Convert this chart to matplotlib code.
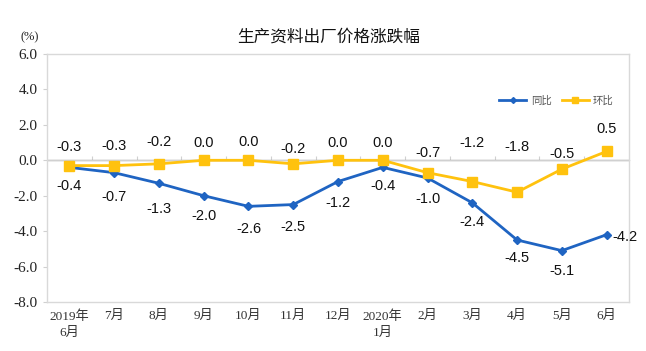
import matplotlib
matplotlib.use("Agg")
import matplotlib.pyplot as plt
import numpy as np

title = "生产资料出厂价格涨跌幅"
months = ["2019年\n6月", "7月", "8月", "9月", "10月", "11月", "12月",
          "2020年\n1月", "2月", "3月", "4月", "5月", "6月"]
yoy = [-0.4, -0.7, -1.3, -2.0, -2.6, -2.5, -1.2, -0.4, -1.0, -2.4, -4.5, -5.1, -4.2]
mom = [-0.3, -0.3, -0.2, 0.0, 0.0, -0.2, 0.0, 0.0, -0.7, -1.2, -1.8, -0.5, 0.5]
yoy_name = "同比"
mom_name = "环比"
yticks = [6.0, 4.0, 2.0, 0.0, -2.0, -4.0, -6.0, -8.0]

BLUE = "#1F64C2"
YELLOW = "#FFC20E"
CJK = ["Noto Sans CJK SC", "DejaVu Sans"]
SERIF = ["Liberation Serif", "Noto Sans CJK SC"]

fig = plt.figure(figsize=(6.46, 3.51), dpi=100)
ax = fig.add_axes([47/646, 1-302/351, 582/646, 248/351])
x = np.arange(len(months))

ax.plot(x, yoy, color=BLUE, lw=2.0, marker="D", ms=4.5, zorder=3)
ax.plot(x, mom, color=YELLOW, lw=2.0, marker="s", ms=7, zorder=3)

ax.set_xlim(-0.5, len(months) - 0.5)
ax.set_ylim(-8, 6)
ax.set_yticks(yticks)
ax.set_yticklabels([f"{v:.1f}" for v in yticks], family=SERIF, fontsize=11, color="#222222")
ax.set_xticks(x)
ax.set_xticklabels(months, family=SERIF, fontsize=9.5, linespacing=1.4, va="top", color="#333333")
ax.tick_params(axis="x", length=0, pad=6)
ax.tick_params(axis="y", length=3, color="#d0d0d0", pad=4)
for s in ax.spines.values():
    s.set_color("#d9d9d9")
    s.set_linewidth(1.0)
ax.axhline(0, color="#d0d0d0", lw=1.0, zorder=1)
# small category boundary ticks on the zero line
sec = ax.secondary_xaxis(8/14)
sec.set_xticks(np.arange(0.5, len(months) - 1, 1.0))
sec.set_xticklabels([])
sec.tick_params(length=3, color="#d0d0d0", direction="out")
sec.spines["bottom"].set_visible(False)

# data labels
mom_off = [19, 20, 22, 17, 18, 15, 17, 17, 20, 39, 45, 15, 22]
for i, v in enumerate(mom):
    ax.annotate(f"{v:.1f}", (i, v), xytext=(0, mom_off[i] * 0.72), textcoords="offset points",
                ha="center", va="center", fontsize=10.5, family="Liberation Sans", color="#111111")
yoy_off = [19, 24, 26, 20, 23, 22, 21, 19, 21, 19, 18, 20, 0]
for i, v in enumerate(yoy):
    if i == len(yoy) - 1:
        ax.annotate(f"{v:.1f}", (i, v), xytext=(13, -2), textcoords="offset points",
                    ha="center", va="center", fontsize=10.5, family="Liberation Sans", color="#111111")
    else:
        ax.annotate(f"{v:.1f}", (i, v), xytext=(0, -yoy_off[i] * 0.72), textcoords="offset points",
                    ha="center", va="center", fontsize=10.5, family="Liberation Sans", color="#111111")

leg = ax.legend([plt.Line2D([], [], color=BLUE, lw=2, marker="D", ms=3),
                 plt.Line2D([], [], color=YELLOW, lw=2, marker="s", ms=5)],
                [yoy_name, mom_name], loc="upper right", bbox_to_anchor=(0.99, 0.87),
                ncol=2, frameon=False, prop={"family": CJK, "size": 7.5},
                handlelength=2.6, columnspacing=1.0, handletextpad=0.4)
for t in leg.get_texts():
    t.set_color("#555555")

fig.text(329/646, 1-37/351, title, ha="center", va="center", fontsize=12, family=CJK, color="#111111")
fig.text(30/646, 1-37/351, "(%)", ha="center", va="center", fontsize=9, family=SERIF, color="#222222")

fig.savefig("out.png", dpi=100)
